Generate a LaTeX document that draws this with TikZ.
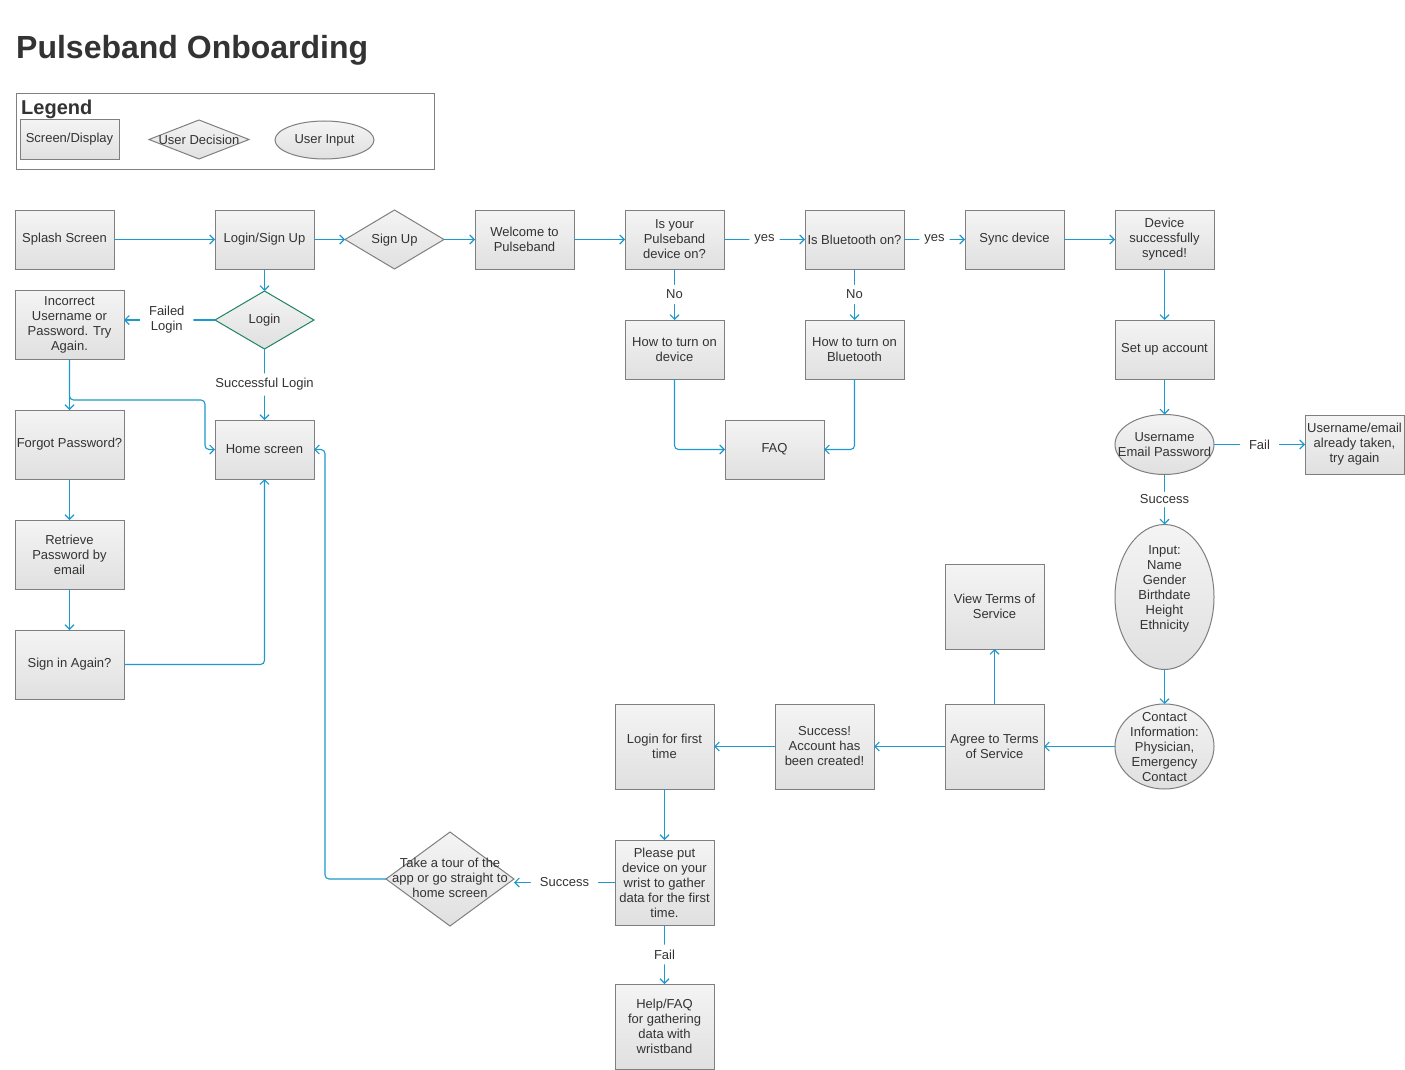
\documentclass[tikz,border=0pt]{standalone}
\usepackage{fontspec}
\setmainfont{Liberation Sans}
\usetikzlibrary{shapes.geometric,arrows.meta,calc}
\definecolor{lnblue}{HTML}{1C9ACD}
\definecolor{bgray}{HTML}{7F7F7F}
\definecolor{topc}{HTML}{F4F4F4}
\definecolor{botc}{HTML}{E0E0E0}
\definecolor{txt}{HTML}{333333}
\definecolor{dgreen}{HTML}{1F8460}
\newcommand\mynodefont{\fontsize{13}{15}\selectfont}
\tikzset{
  box/.style={draw=bgray, line width=1pt, top color=topc, bottom color=botc, rectangle,
    minimum width=99pt, minimum height=59pt, inner sep=1pt, outer sep=0pt,
    align=center, font=\mynodefont, text=txt},
  dia/.style={draw=bgray, line width=1pt, top color=topc, bottom color=botc, diamond,
    minimum width=99pt, minimum height=59pt, inner sep=0pt, outer sep=0pt},
  ell/.style={draw=bgray, line width=1pt, top color=topc, bottom color=botc, ellipse,
    minimum width=99pt, minimum height=60pt, inner sep=0pt, outer sep=0pt},
  tx/.style={align=center, font=\mynodefont, text=txt, inner sep=0pt},
  conn/.style={draw=lnblue, line width=1.1pt, -{Straight Barb[length=4.5pt,width=9pt]}, rounded corners=4pt},
  lbl/.style={fill=white, inner sep=5pt, font=\mynodefont, text=txt, align=center},
}
\begin{document}
\begin{tikzpicture}[x=1pt,y=-1pt]
\useasboundingbox[fill=white] (0,0) rectangle (1405,1070);
% title
\node[anchor=base west, inner sep=0, font=\fontsize{32}{36}\selectfont\bfseries, text=txt] (title) at (16,59) {Pulseband Onboarding};
% legend
\node[draw=bgray, line width=0.9pt, minimum width=418pt, minimum height=76pt, inner sep=0, anchor=north west] (legendframe) at (16,93) {};
\node[anchor=base west, inner sep=0, font=\fontsize{20}{24}\selectfont\bfseries, text=txt] (legendtitle) at (21,115) {Legend};
\node[box, minimum width=99pt, minimum height=39pt] (lgbox) at (69.5,139.5) {Screen/Display};
\node[dia, minimum width=100pt, minimum height=39pt] (lgdia) at (199,139.5) {};
\node[tx] (lgdiatext) at (199,139.5) {User Decision};
\node[ell, minimum width=99pt, minimum height=38pt] (lgell) at (324.5,140) {};
\node[tx] (lgelltext) at (324.5,140) {User Input};

% row 1
\node[box] (splash) at (64.5,239.5) {Splash Screen};
\node[box] (lsu) at (264.5,239.5) {Login/Sign Up};
\node[dia] (signup) at (394.5,239.5) {};
\node[tx] (signuptext) at (394.5,240) {Sign Up};
\node[box] (welcome) at (524.5,239.5) {Welcome to\\Pulseband};
\node[box] (isdev) at (674.5,239.5) {Is your\\Pulseband\\device on?};
\node[box] (isbt) at (854.5,239.5) {Is Bluetooth on?};
\node[box] (sync) at (1014.5,239.5) {Sync device};
\node[box] (synced) at (1164.5,239.5) {Device\\successfully\\synced!};

% left part
\node[dia, draw=dgreen, minimum height=58pt] (login) at (264.5,320) {};
\node[tx] (logintext) at (264.5,320) {Login};
\node[box, minimum width=109pt, minimum height=69pt] (inc) at (69.5,324.5) {Incorrect\\Username or\\Password. Try\\Again.};
\node[box] (home) at (264.5,449.5) {Home screen};
\node[box, minimum width=109pt, minimum height=69pt] (forgot) at (69.5,444.5) {Forgot Password?};
\node[box, minimum width=109pt, minimum height=69pt] (retrieve) at (69.5,554.5) {Retrieve\\Password by\\email};
\node[box, minimum width=109pt, minimum height=69pt] (signin) at (69.5,664.5) {Sign in Again?};

% middle
\node[box] (howdev) at (674.5,349.5) {How to turn on\\device};
\node[box] (howbt) at (854.5,349.5) {How to turn on\\Bluetooth};
\node[box] (faq) at (774.5,449.5) {FAQ};

% right column
\node[box] (setup) at (1164.5,349.5) {Set up account};
\node[ell] (uep) at (1164.5,444.5) {};
\node[tx] (ueptext) at (1164.5,445) {Username\\Email Password};
\node[box] (taken) at (1354.5,444.5) {Username/email\\already taken,\\try again};
\node[ell, minimum height=145pt] (input) at (1164.5,597) {};
\node[tx] (inputtext) at (1164.5,589) {Input:\\Name\\Gender\\Birthdate\\Height\\Ethnicity};
\node[ell, minimum height=85pt] (contact) at (1164.5,746.5) {};
\node[tx] (contacttext) at (1164.5,747) {Contact\\Information:\\Physician,\\Emergency\\Contact};

% bottom row
\node[box, minimum height=85pt] (view) at (994.5,606.5) {View Terms of\\Service};
\node[box, minimum height=85pt] (agree) at (994.5,746.5) {Agree to Terms\\of Service};
\node[box, minimum height=85pt] (succ) at (824.5,746.5) {Success!\\Account has\\been created!};
\node[box, minimum height=85pt] (first) at (664.5,746.5) {Login for first\\time};
\node[box, minimum height=85pt] (please) at (664.5,882.5) {Please put\\device on your\\wrist to gather\\data for the first\\time.};
\node[box, minimum height=85pt] (help) at (664.5,1026.5) {Help/FAQ\\for gathering\\data with\\wristband};
\node[dia, minimum width=128pt, minimum height=94pt] (tour) at (450,879) {};
\node[tx] (tourtext) at (450,878) {Take a tour of the\\app or go straight to\\home screen};

% connectors
\draw[conn] (splash) -- (lsu);
\draw[conn] (lsu) -- (signup);
\draw[conn] (signup) -- (welcome);
\draw[conn] (welcome) -- (isdev);
\draw[conn] (isdev) -- node[lbl] (lyes1) {yes} (isbt);
\draw[conn] (isbt) -- node[lbl] (lyes2) {yes} (sync);
\draw[conn] (sync) -- (synced);
\draw[conn] (synced) -- (setup);
\draw[conn] (setup) -- (uep);
\draw[conn] (uep.east) -- node[lbl, inner xsep=9pt] (lfail1) {Fail} (taken.west);
\draw[conn] (uep.south) -- node[lbl, inner sep=3pt] (lsucc1) {Success} (input.north);
\draw[conn] (input.south) -- (contact.north);
\draw[conn] (contact.west) -- (agree.east);
\draw[conn] (agree) -- (view);
\draw[conn] (agree) -- (succ);
\draw[conn] (succ) -- (first);
\draw[conn] (first) -- (please);
\draw[conn] (please) -- node[lbl] (lfail2) {Fail} (help);
\draw[conn] (please.west) -- node[lbl, inner xsep=9pt] (lsucc2) {Success} (please.west -| tour.east);
\draw[conn] (tour.west) -- ++(-61,0) |- (home.east);

\draw[conn] (lsu) -- (login);
\draw[conn] (login.west) -- node[lbl, inner xsep=9pt, pos=0.53] (lfailed) {Failed\\Login} (login.west -| inc.east);
\draw[conn] (login.south) -- node[lbl] (lsuccl) {Successful Login} (home.north);
\draw[conn] (inc) -- (forgot);
\draw[conn] (inc.south) -- ++(0,41) -| ($(home.west)+(-10,0)$) -- (home.west);
\draw[conn] (forgot) -- (retrieve);
\draw[conn] (retrieve) -- (signin);
\draw[conn] (signin.east) -| (home.south);

\draw[conn] (isdev) -- node[lbl] (lno1) {No} (howdev);
\draw[conn] (isbt) -- node[lbl] (lno2) {No} (howbt);
\draw[conn] (howdev.south) |- (faq.west);
\draw[conn] (howbt.south) |- (faq.east);
\end{tikzpicture}
\end{document}
